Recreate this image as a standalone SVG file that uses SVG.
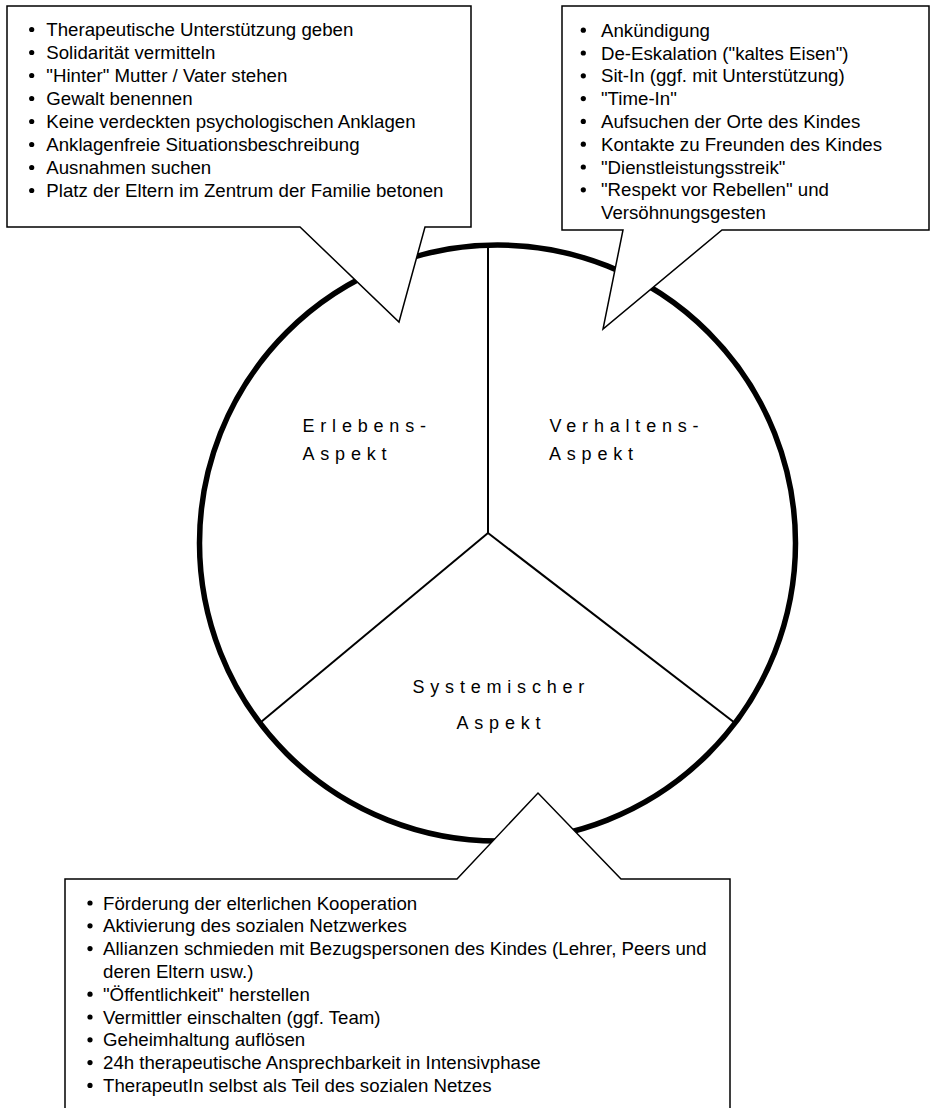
<svg xmlns="http://www.w3.org/2000/svg" width="934" height="1108" viewBox="0 0 934 1108">
<style>
.list{font-family:"Liberation Sans",Arial,sans-serif;font-size:18.67px;fill:#000}
.lab{font-family:"Liberation Sans",Arial,sans-serif;font-size:18px;letter-spacing:5.8px;fill:#000}
.call{fill:#fff;stroke:#000;stroke-width:1.5;stroke-linejoin:miter}
.div{stroke:#000;stroke-width:2;fill:none}
.bul{fill:#000}
</style>
<rect width="934" height="1108" fill="#fff"/>
<g id="circle">
<circle cx="497.5" cy="543" r="298" fill="#fff" stroke="#000" stroke-width="5.5"/>
</g>
<g id="connectors">
<line class="div" x1="488" y1="246" x2="488" y2="533"/>
<line class="div" x1="488" y1="533" x2="261" y2="722"/>
<line class="div" x1="488" y1="533" x2="735" y2="723"/>
</g>
<g id="label-erleben">
<text class="lab" x="302.5" y="431.5">Erlebens-</text>
<text class="lab" x="302.5" y="460">Aspekt</text>
</g>
<g id="label-verhalten">
<text class="lab" x="549.5" y="431.5">Verhaltens-</text>
<text class="lab" x="549" y="460">Aspekt</text>
</g>
<g id="label-system">
<text class="lab" x="412.5" y="692.5">Systemischer</text>
<text class="lab" x="456.5" y="728.5">Aspekt</text>
</g>
<g id="callout-erleben">
<path class="call" d="M7,6 H471 V227 H425 L399,322 L300,227 H7 Z"/>
<g class="bul">
<circle cx="31.7" cy="29.5" r="2.6"/><circle cx="31.7" cy="52.5" r="2.6"/><circle cx="31.7" cy="75.5" r="2.6"/><circle cx="31.7" cy="98.5" r="2.6"/>
<circle cx="31.7" cy="121.5" r="2.6"/><circle cx="31.7" cy="144.5" r="2.6"/><circle cx="31.7" cy="167.5" r="2.6"/><circle cx="31.7" cy="190.5" r="2.6"/>
</g>
<text class="list" x="46.3" y="36">Therapeutische Unterstützung geben</text>
<text class="list" x="46.3" y="59">Solidarität vermitteln</text>
<text class="list" x="46.3" y="82">"Hinter" Mutter / Vater stehen</text>
<text class="list" x="46.3" y="105">Gewalt benennen</text>
<text class="list" x="46.3" y="128">Keine verdeckten psychologischen Anklagen</text>
<text class="list" x="46.3" y="151">Anklagenfreie Situationsbeschreibung</text>
<text class="list" x="46.3" y="174">Ausnahmen suchen</text>
<text class="list" x="46.3" y="197">Platz der Eltern im Zentrum der Familie betonen</text>
</g>
<g id="callout-verhalten">
<path class="call" d="M562,6 H929 V230 H722 L603,329 L623,230 H562 Z"/>
<g class="bul">
<circle cx="583.3" cy="30.2" r="2.6"/><circle cx="583.3" cy="53" r="2.6"/><circle cx="583.3" cy="75.8" r="2.6"/><circle cx="583.3" cy="98.6" r="2.6"/>
<circle cx="583.3" cy="121.4" r="2.6"/><circle cx="583.3" cy="144.2" r="2.6"/><circle cx="583.3" cy="167" r="2.6"/><circle cx="583.3" cy="189.8" r="2.6"/>
</g>
<text class="list" x="601" y="36.7">Ankündigung</text>
<text class="list" x="601" y="59.5">De-Eskalation ("kaltes Eisen")</text>
<text class="list" x="601" y="82.3">Sit-In (ggf. mit Unterstützung)</text>
<text class="list" x="601" y="105.1">"Time-In"</text>
<text class="list" x="601" y="127.9">Aufsuchen der Orte des Kindes</text>
<text class="list" x="601" y="150.7">Kontakte zu Freunden des Kindes</text>
<text class="list" x="601" y="173.5">"Dienstleistungsstreik"</text>
<text class="list" x="601" y="196.3">"Respekt vor Rebellen" und</text>
<text class="list" x="601" y="219.1">Versöhnungsgesten</text>
</g>
<g id="callout-system">
<path class="call" d="M65,1112 V879 H457 L538,793 L621,879 H730 V1112"/>
<g class="bul">
<circle cx="90" cy="903" r="2.6"/><circle cx="90" cy="925.8" r="2.6"/><circle cx="90" cy="948.6" r="2.6"/>
<circle cx="90" cy="994.2" r="2.6"/><circle cx="90" cy="1017" r="2.6"/><circle cx="90" cy="1039.8" r="2.6"/><circle cx="90" cy="1062.6" r="2.6"/><circle cx="90" cy="1085.4" r="2.6"/>
</g>
<text class="list" x="103" y="909.5">Förderung der elterlichen Kooperation</text>
<text class="list" x="103" y="932.3">Aktivierung des sozialen Netzwerkes</text>
<text class="list" x="103" y="955.1">Allianzen schmieden mit Bezugspersonen des Kindes (Lehrer, Peers und</text>
<text class="list" x="103" y="977.9">deren Eltern usw.)</text>
<text class="list" x="103" y="1000.7">"Öffentlichkeit" herstellen</text>
<text class="list" x="103" y="1023.5">Vermittler einschalten (ggf. Team)</text>
<text class="list" x="103" y="1046.3">Geheimhaltung auflösen</text>
<text class="list" x="103" y="1069.1">24h therapeutische Ansprechbarkeit in Intensivphase</text>
<text class="list" x="103" y="1091.9">TherapeutIn selbst als Teil des sozialen Netzes</text>
</g>
</svg>
